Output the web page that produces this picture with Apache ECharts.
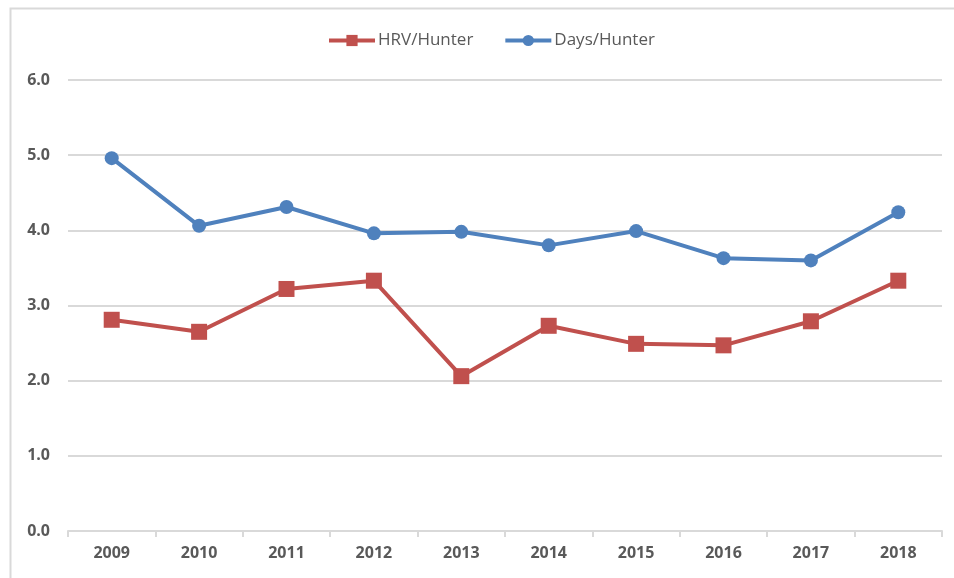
<!DOCTYPE html>
<html>
<head>
<meta charset="utf-8">
<script src="https://cdn.jsdelivr.net/npm/echarts@6/dist/echarts.min.js"></script>
<style>
html, body { margin: 0; padding: 0; background: #fff; }
#main { width: 954px; height: 578px; }
</style>
</head>
<body>
<div id="main"></div>
<script>
const years = ['2009', '2010', '2011', '2012', '2013', '2014', '2015', '2016', '2017', '2018'];
const hrvPerHunter = [2.81, 2.65, 3.22, 3.33, 2.06, 2.73, 2.49, 2.47, 2.79, 3.33];
const daysPerHunter = [4.96, 4.06, 4.31, 3.96, 3.98, 3.80, 3.99, 3.63, 3.60, 4.24];

const chart = echarts.init(document.getElementById('main'));
const labelStyle = {
    color: '#595959',
    fontFamily: 'Open Sans, DejaVu Sans, sans-serif',
    fontSize: 16,
    fontWeight: 'bold'
};

chart.setOption({
    animation: false,
    // outer frame like the spreadsheet chart border
    graphic: [{
        type: 'rect',
        left: 8,
        top: 6,
        shape: { width: 960, height: 600 },
        style: { fill: 'none', stroke: '#d9d9d9', lineWidth: 2 },
        silent: true
    }],
    legend: {
        top: 27,
        left: 322,
        itemWidth: 46,
        itemHeight: 14,
        itemGap: 30,
        lineStyle: { width: 4 },
        textStyle: {
            color: '#595959',
            fontFamily: 'Open Sans, DejaVu Sans, sans-serif',
            fontSize: 17,
            padding: [0, 0, 0, -2]
        },
        data: ['HRV/Hunter', 'Days/Hunter']
    },
    grid: { left: 68, right: 12, top: 80, bottom: 47 },
    xAxis: {
        type: 'category',
        data: years,
        boundaryGap: true,
        axisLine: { lineStyle: { color: '#d9d9d9', width: 2 } },
        axisTick: { show: true, length: 6, lineStyle: { color: '#d9d9d9', width: 2 } },
        axisLabel: Object.assign({ margin: 14 }, labelStyle)
    },
    yAxis: {
        type: 'value',
        min: 0,
        max: 6,
        interval: 1,
        axisLine: { show: false },
        axisTick: { show: false },
        splitLine: { lineStyle: { color: '#d9d9d9', width: 2 } },
        axisLabel: Object.assign({
            margin: 18,
            formatter: v => v.toFixed(1)
        }, labelStyle)
    },
    series: [
        {
            name: 'HRV/Hunter',
            type: 'line',
            data: hrvPerHunter,
            symbol: 'rect',
            symbolSize: 16,
            itemStyle: { color: '#C0504D' },
            lineStyle: { color: '#C0504D', width: 4 }
        },
        {
            name: 'Days/Hunter',
            type: 'line',
            data: daysPerHunter,
            symbol: 'circle',
            symbolSize: 14,
            itemStyle: { color: '#4F81BD' },
            lineStyle: { color: '#4F81BD', width: 4 }
        }
    ]
});
</script>
</body>
</html>
